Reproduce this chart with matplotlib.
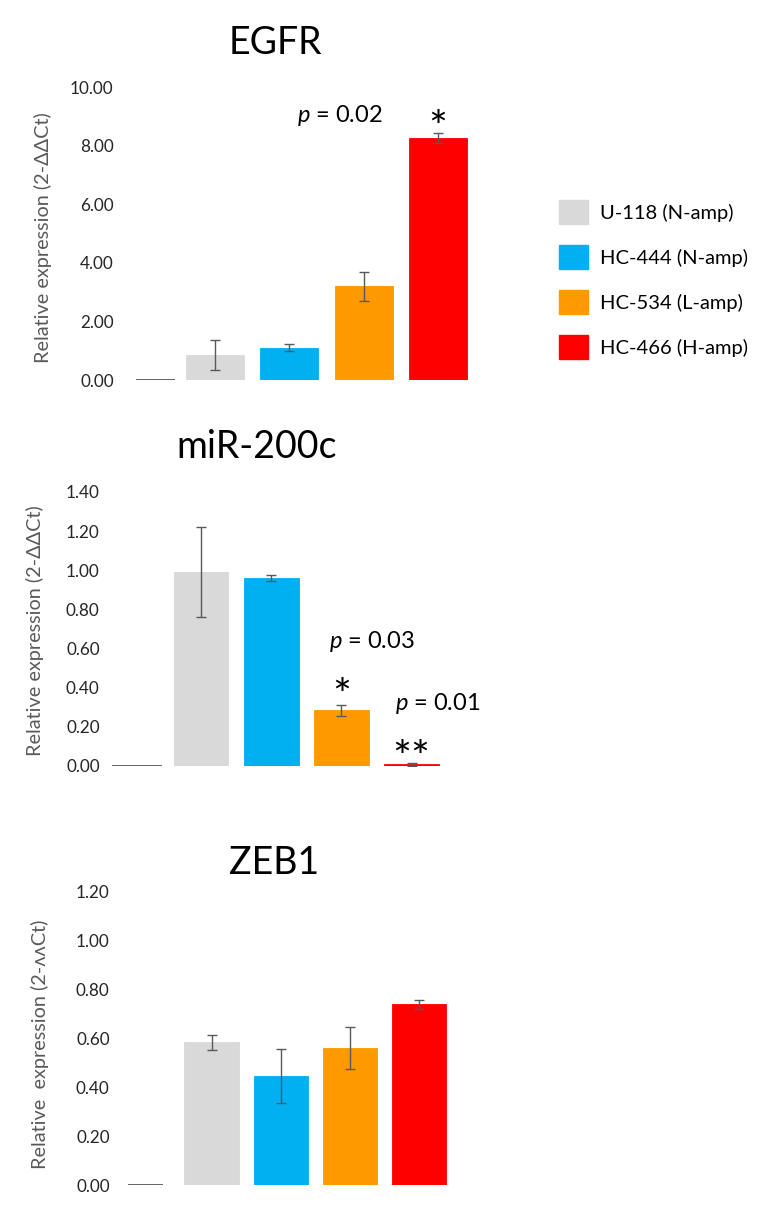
import numpy as np
import matplotlib
matplotlib.use("Agg")
import matplotlib.pyplot as plt
from matplotlib.patches import Patch

plt.rcParams['font.family'] = ['Lato', 'DejaVu Sans']
plt.rcParams['mathtext.fontset'] = 'custom'
plt.rcParams['mathtext.it'] = 'Lato:italic'
plt.rcParams['mathtext.rm'] = 'Lato'

# ---------------- data ----------------
cell_lines = ["U-118 (N-amp)", "HC-444 (N-amp)", "HC-534 (L-amp)", "HC-466 (H-amp)"]
colors = ["#D9D9D9", "#00B0F0", "#FF9900", "#FF0000"]

egfr_vals = [0.86, 1.10, 3.20, 8.26]
egfr_err = [0.52, 0.12, 0.50, 0.18]
egfr_ticks = [0, 2, 4, 6, 8, 10]

mir_vals = [0.99, 0.96, 0.286, 0.008]
mir_err = [0.23, 0.015, 0.028, 0.008]
mir_ticks = [0, 0.2, 0.4, 0.6, 0.8, 1.0, 1.2, 1.4]

zeb_vals = [0.584, 0.445, 0.562, 0.740]
zeb_err = [0.030, 0.110, 0.085, 0.018]
zeb_ticks = [0, 0.2, 0.4, 0.6, 0.8, 1.0, 1.2]

W, H = 773, 1218
fig = plt.figure(figsize=(W / 100, H / 100), dpi=100)
fig.patch.set_facecolor("white")

TICK_COLOR = "#262626"
LABEL_COLOR = "#595959"
ERR_COLOR = "#595959"


def make_panel(vals, errs, ticks, c0, sp, y0px, ytoppx, Lp, Rp, line_px):
    ymax = ticks[-1]
    ax = fig.add_axes([Lp / W, 1 - y0px / H, (Rp - Lp) / W, (y0px - ytoppx) / H])
    ax.set_xlim((Lp - c0) / sp, (Rp - c0) / sp)
    ax.set_ylim(0, ymax)
    x = np.arange(len(vals))
    ax.bar(x, vals, width=0.78, color=colors, edgecolor=colors, linewidth=0.6, zorder=2)
    ax.errorbar(x, vals, yerr=errs, fmt="none", ecolor=ERR_COLOR, elinewidth=1.0,
                capsize=3.5, capthick=1.0, zorder=3)
    ax.hlines(0, (line_px[0] - c0) / sp, (line_px[1] - c0) / sp, color="#595959",
              lw=1.3, zorder=2)
    for s in ax.spines.values():
        s.set_visible(False)
    ax.set_xticks([])
    ax.set_yticks(ticks)
    ax.set_yticklabels([f"{t:.2f}" for t in ticks])
    ax.tick_params(axis="y", length=0, pad=6, labelsize=12.3, labelcolor=TICK_COLOR)
    ax.patch.set_alpha(0)
    return ax


TITLE_FS = 27
YLAB_FS = 14.3
P_FS = 17
STAR_FS = 32

# EGFR
ax1 = make_panel(egfr_vals, egfr_err, egfr_ticks, 215, 74.3, 380, 87, 122, 480, (136, 175))
fig.text(275 / W, 1 - 43 / H, "EGFR", ha="center", va="center", fontsize=TITLE_FS)
fig.text(43 / W, 1 - 238 / H, "Relative expression (2-ΔΔCt)", rotation=90,
         ha="center", va="center", fontsize=YLAB_FS, color=LABEL_COLOR)
ax1.text(1.68, 9.04, r"$\it{p}$ = 0.02", ha="center", va="center", fontsize=P_FS)
ax1.text(3.0, 8.55, "*", ha="center", va="center", fontsize=STAR_FS)

# miR-200c
ax2 = make_panel(mir_vals, mir_err, mir_ticks, 201, 70.2, 766, 492, 108, 480, (112, 162))
fig.text(257 / W, 1 - 447 / H, "miR-200c", ha="center", va="center", fontsize=TITLE_FS)
fig.text(35 / W, 1 - 631 / H, "Relative expression (2-ΔΔCt)", rotation=90,
         ha="center", va="center", fontsize=YLAB_FS, color=LABEL_COLOR)
ax2.text(2.43, 0.634, r"$\it{p}$ = 0.03", ha="center", va="center", fontsize=P_FS)
ax2.text(2.0, 0.35, "*", ha="center", va="center", fontsize=STAR_FS)
ax2.text(3.37, 0.317, r"$\it{p}$ = 0.01", ha="center", va="center", fontsize=P_FS)
ax2.text(3.0, 0.035, "**", ha="center", va="center", fontsize=STAR_FS)

# ZEB1
ax3 = make_panel(zeb_vals, zeb_err, zeb_ticks, 211.5, 69.3, 1185, 892, 118, 480, (128, 163))
fig.text(274 / W, 1 - 863 / H, "ZEB1", ha="center", va="center", fontsize=TITLE_FS)
fig.text(40 / W, 1 - 1044 / H, "Relative  expression (2-ʌʌCt)", rotation=90,
         ha="center", va="center", fontsize=YLAB_FS, color=LABEL_COLOR)

# Legend
handles = [Patch(facecolor=c, edgecolor=c) for c in colors]
fig.legend(handles, cell_lines, loc="upper left",
           bbox_to_anchor=(559 / W, 1 - 200 / H), frameon=False, fontsize=14.5,
           handlelength=1.45, handleheight=1.45, handletextpad=0.6,
           labelspacing=1.05, borderpad=0, borderaxespad=0)

fig.savefig("out.png", dpi=100)
